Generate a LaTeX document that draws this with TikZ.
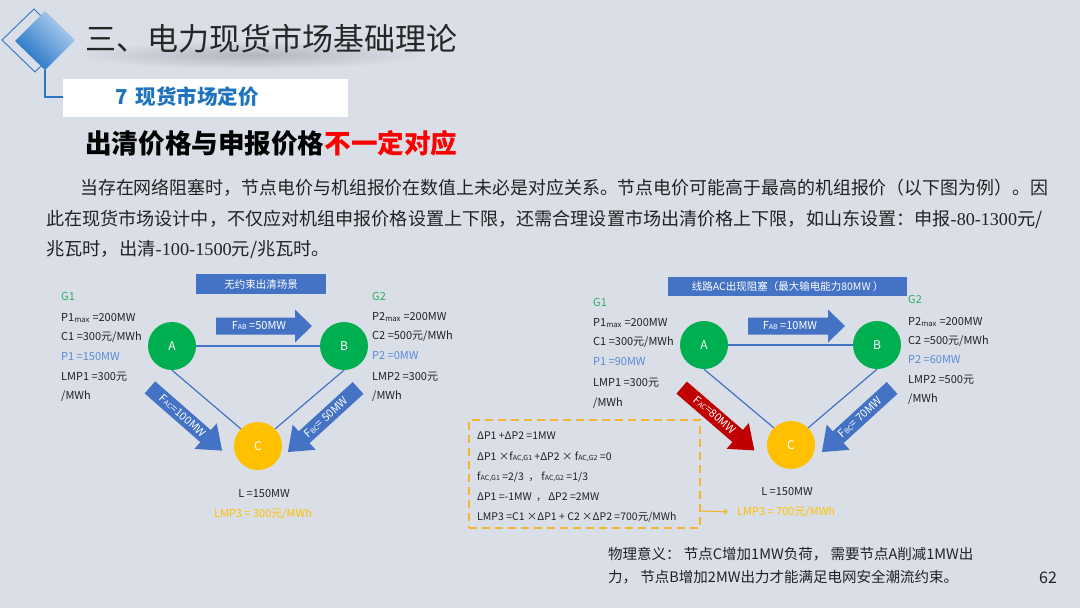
\documentclass[tikz,border=0pt]{standalone}
\usepackage{fontspec}
\usepackage{graphicx}
\newfontfamily\cjk{Noto Sans CJK SC}
\newfontfamily\numserif{Liberation Serif}
\usetikzlibrary{arrows.meta}
\definecolor{bg}{HTML}{D9DEE7}
\definecolor{nodegreen}{HTML}{00B050}
\definecolor{nodeyellow}{HTML}{FFC000}
\definecolor{dashgold}{HTML}{F2B630}
\definecolor{arrowblue}{HTML}{4472C4}
\definecolor{arrowred}{HTML}{C00000}
\definecolor{labgreen}{HTML}{2EAF62}
\definecolor{labblue}{HTML}{5A8AD6}
\definecolor{titleblue}{HTML}{1E73BE}
\definecolor{logoblue}{HTML}{2E75C8}
\definecolor{logodark}{HTML}{1F6FC5}
\definecolor{logolight}{HTML}{B5D3F0}
\definecolor{txtdark}{HTML}{222222}
\newcommand{\blkarrow}[7]{%
  \fill[#7, shift={#1}, rotate=#2] (-#3/2,-#4/2) -- (#3/2-#6,-#4/2) -- (#3/2-#6,-#5/2) -- (#3/2,0) -- (#3/2-#6,#5/2) -- (#3/2-#6,#4/2) -- (-#3/2,#4/2) -- cycle;}
\newcommand{\sm}[1]{{\fontsize{7}{8}\selectfont #1}}
\begin{document}
\begin{tikzpicture}[x=1pt,y=-1pt,
  txt/.style={anchor=west, inner sep=0pt, text=txtdark, font=\cjk\fontsize{11}{13}\selectfont},
  bnode/.style={circle, minimum size=48pt, inner sep=0pt, text=white, font=\cjk\fontsize{12}{14}\selectfont},
  gnode/.style={bnode, fill=nodegreen},
  ynode/.style={bnode, fill=nodeyellow},
  link/.style={draw=arrowblue, line width=1.2pt},
  tagbox/.style={fill=arrowblue, text=white, inner sep=0pt, font=\cjk\fontsize{10.5}{12}\selectfont},
  arlabel/.style={inner sep=0pt, text=white, font=\cjk\fontsize{11}{13}\selectfont},
  para/.style={anchor=west, inner sep=0pt, text=txtdark, font=\cjk\fontsize{18}{20}\selectfont},
  boxtxt/.style={anchor=west, inner sep=0pt, text=txtdark, font=\cjk\fontsize{10.5}{12}\selectfont}
]
\fill[bg] (0,0) rectangle (1080,608);
\useasboundingbox (0,0) rectangle (1080,608);

% logo
\draw[logoblue, line width=0.9pt] (2,40) -- (34,9) -- (66,41) -- (35,72) -- cycle;
\shade[shading=axis, top color=logolight, bottom color=logodark, shading angle=-45] (15,41) -- (45,11) -- (75,40) -- (45,70) -- cycle;
\draw[logoblue, line width=1.6pt] (45,70) -- (45,97) -- (63,97);

% soft title shadow
\shade[inner color=bg!82!black, outer color=bg] (250,55) ellipse (175 and 14);

% title
\node[anchor=west, inner sep=0pt, text=black!85, font=\cjk\fontsize{31}{33}\selectfont] (title) at (85,39) {三、电力现货市场基础理论};
\node[fill=white, minimum width=285pt, minimum height=38pt, inner sep=0pt, anchor=north west] (subbox) at (63,79) {};
\node[anchor=west, inner sep=0pt, text=titleblue, font=\cjk\bfseries\fontsize{20.5}{22}\selectfont] (subtitle) at (115,97) {7\, 现货市场定价};
\node[anchor=west, inner sep=0pt, text=black, font=\cjk\bfseries\fontsize{26.6}{28}\selectfont] (heading) at (85,143) {出清价格与申报价格\textcolor{red}{不一定对应}};

% paragraph
\node[para] (p1) at (80,188) {\resizebox{968pt}{\height}{当存在网络阻塞时，节点电价与机组报价在数值上未必是对应关系。节点电价可能高于最高的机组报价（以下图为例）。因}};
\node[para] (p2) at (46,219) {\resizebox{996pt}{\height}{此在现货市场设计中，不仅应对机组申报价格设置上下限，还需合理设置市场出清价格上下限，如山东设置：申报{\numserif -80-1300}元/}};
\node[para] (p3) at (46,250) {\resizebox{284pt}{\height}{兆瓦时，出清{\numserif -100-1500}元/兆瓦时。}};

% ===== left diagram =====
\node[tagbox, minimum width=130pt, minimum height=20pt, anchor=north west] (tagL) at (196,274) {无约束出清场景};
\node[gnode] (A1) at (172,346) {A};
\node[gnode] (B1) at (344,346) {B};
\node[ynode] (C1) at (258,446) {C};
\draw[link] (A1.east) -- (B1.west);
\draw[link] (A1.south) -- (C1.135);
\draw[link] (B1.south) -- (C1.45);
\blkarrow{(264,326)}{0}{96}{17}{33}{17}{arrowblue}
\node[arlabel] (fab1) at (259,326) {F\sm{AB} =50MW};
\blkarrow{(186,419)}{-41.2}{96}{16}{34}{22}{arrowblue}
\node[arlabel, rotate=-41.2] (fac1) at (183,416) {F\sm{AC}=100MW};
\blkarrow{(323,420)}{222.4}{95}{16}{34}{22}{arrowblue}
\node[arlabel, rotate=42.4] (fbc1) at (326,417) {F\sm{BC}= 50MW};

\node[txt, text=labgreen] (g1a) at (61,296) {G1};
\node[txt] (pm1a) at (61,318) {P1\textsubscript{max} =200MW};
\node[txt] (c1a) at (61,337) {C1 =300元/MWh};
\node[txt, text=labblue] (pp1a) at (61,357) {P1 =150MW};
\node[txt] (lmp1a) at (61,377) {LMP1 =300元};
\node[txt] (u1a) at (61,396) {/MWh};

\node[txt, text=labgreen] (g2a) at (372,296) {G2};
\node[txt] (pm2a) at (372,317) {P2\textsubscript{max} =200MW};
\node[txt] (c2a) at (372,336) {C2 =500元/MWh};
\node[txt, text=labblue] (pp2a) at (372,356) {P2 =0MW};
\node[txt] (lmp2a) at (372,377) {LMP2 =300元};
\node[txt] (u2a) at (372,396) {/MWh};

\node[txt, anchor=center] (la) at (264,494) {L =150MW};
\node[txt, anchor=center, text=nodeyellow] (lmp3a) at (263,514) {LMP3 = 300元/MWh};

% ===== right diagram =====
\node[tagbox, minimum width=239pt, minimum height=19pt, anchor=north west] (tagR) at (668,277) {线路AC出现阻塞（最大输电能力80MW ）};
\node[gnode] (A2) at (704,345) {A};
\node[gnode] (B2) at (877,345) {B};
\node[ynode] (C2) at (791,445) {C};
\draw[link] (A2.east) -- (B2.west);
\draw[link] (A2.south) -- (C2.135);
\draw[link] (B2.south) -- (C2.45);
\blkarrow{(796.5,326)}{0}{97}{17}{33}{17}{arrowblue}
\node[arlabel] (fab2) at (790,326) {F\sm{AB} =10MW};
\blkarrow{(718,419)}{-40.8}{96}{16}{34}{22}{arrowred}
\node[arlabel, rotate=-40.8] (fac2) at (715,415) {F\sm{AC}=80MW};
\blkarrow{(857,420)}{222.4}{95}{16}{34}{22}{arrowblue}
\node[arlabel, rotate=42.4] (fbc2) at (860,417) {F\sm{BC}= 70MW};

\node[txt, text=labgreen] (g1b) at (593,302) {G1};
\node[txt] (pm1b) at (593,323) {P1\textsubscript{max} =200MW};
\node[txt] (c1b) at (593,342) {C1 =300元/MWh};
\node[txt, text=labblue] (pp1b) at (593,362) {P1 =90MW};
\node[txt] (lmp1b) at (593,383) {LMP1 =300元};
\node[txt] (u1b) at (593,403) {/MWh};

\node[txt, text=labgreen] (g2b) at (908,299) {G2};
\node[txt] (pm2b) at (908,322) {P2\textsubscript{max} =200MW};
\node[txt] (c2b) at (908,341) {C2 =500元/MWh};
\node[txt, text=labblue] (pp2b) at (908,360) {P2 =60MW};
\node[txt] (lmp2b) at (908,380) {LMP2 =500元};
\node[txt] (u2b) at (908,399) {/MWh};

\node[txt, anchor=center] (lb) at (787,492) {L =150MW};
\node[txt, anchor=west, text=nodeyellow] (lmp3b) at (737,512) {LMP3 = 700元/MWh};

% dashed derivation box
\node[draw=dashgold, dash pattern=on 8pt off 5pt, line width=1.8pt, minimum width=231pt, minimum height=108pt, anchor=north west, inner sep=0pt] (dbox) at (468,419) {};
\node[boxtxt] (d1) at (477,436) {ΔP1 +ΔP2 =1MW};
\node[boxtxt] (d2) at (477,457) {ΔP1 ×f\sm{AC,G1} +ΔP2 × f\sm{AC,G2} =0};
\node[boxtxt] (d3) at (477,477) {f\sm{AC,G1} =2/3 \ ，\ f\sm{AC,G2} =1/3};
\node[boxtxt] (d4) at (477,497) {ΔP1 =-1MW \,，\,ΔP2 =2MW};
\node[boxtxt] (d5) at (477,517) {LMP3 =C1 ×ΔP1 + C2 ×ΔP2 =700元/MWh};
\coordinate (dout) at (700,511);
\draw[dashgold, line width=1.1pt, shorten >=9pt, -{Straight Barb[length=3pt,width=5pt]}] (dout) -- (lmp3b.west);

% note
\node[anchor=west, inner sep=0pt, text=txtdark, font=\cjk\fontsize{14.5}{16}\selectfont] (n1) at (608,554) {物理意义： 节点C增加1MW负荷， 需要节点A削减1MW出};
\node[anchor=west, inner sep=0pt, text=txtdark, font=\cjk\fontsize{14.5}{16}\selectfont] (n2) at (608,577) {力， 节点B增加2MW出力才能满足电网安全潮流约束。};
\node[inner sep=0pt, text=txtdark, font=\cjk\fontsize{16}{18}\selectfont] (pg) at (1048,578) {62};
\end{tikzpicture}
\end{document}
